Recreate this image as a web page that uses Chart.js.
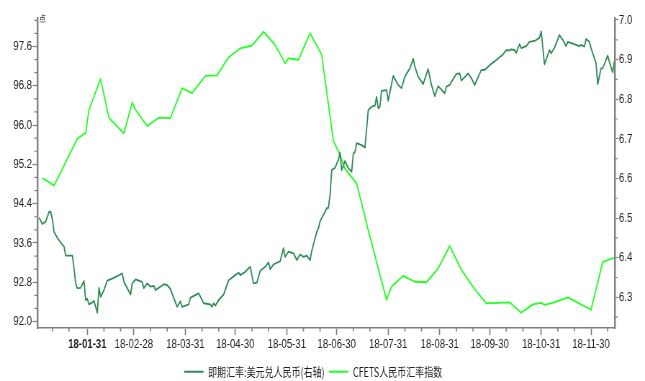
<!DOCTYPE html>
<html>
<head>
<meta charset="utf-8">
<script src="https://cdn.jsdelivr.net/npm/chart.js@4.4.1/dist/chart.umd.min.js"></script>
<style>
  html, body { margin: 0; padding: 0; background: #fff; overflow: hidden; }
</style>
</head>
<body>
<!-- drawn on a wider canvas and shown narrower, which gives the condensed lettering -->
<canvas id="chart" width="896" height="381" style="width:645px;height:381px"></canvas>
<script>
// x values are calendar days counted from 2018-01-01 (day 0)
const X_MAX = 347.4;

// Month-end labels on the date axis
const xTickLabels = ['18-01-31', '18-02-28', '18-03-31', '18-04-30', '18-05-31', '18-06-30',
                     '18-07-31', '18-08-31', '18-09-30', '18-10-31', '18-11-30'];

// Left axis (CFETS index, points) and right axis (USD/CNY) labels
const leftTickLabels = ['92.0', '92.8', '93.6', '94.4', '95.2', '96.0', '96.8', '97.6'];
const rightTickLabels = ['6.3', '6.4', '6.5', '6.6', '6.7', '6.8', '6.9', '7.0'];

// 即期汇率:美元兑人民币 (daily)
const usdDays = [
  1, 3, 5, 7, 8, 9, 10, 12, 14, 16, 17, 21, 22, 23, 24, 26, 28, 29, 30,
  31, 33, 34, 36, 37, 38, 40, 42, 46, 51, 52, 56, 57,
  59, 63, 64, 66, 68, 70, 71, 76, 78, 80, 84, 86, 87,
  89, 91, 92, 97, 100, 104, 105, 106, 107, 109, 112, 115,
  119, 121, 122, 125, 126, 128, 130, 132, 134, 137, 139, 140, 142, 146, 148, 149,
  151, 154, 156, 158, 160, 162, 164, 165, 168, 169, 170, 172, 174, 175, 176, 177, 179,
  181, 182, 183, 185, 187, 189, 190, 191, 192, 195, 197, 199, 201, 203, 204, 205, 206, 207, 210,
  211, 214, 217, 219, 221, 224, 226, 227, 229, 232, 235, 237, 239, 241,
  245, 246, 248, 249, 252, 254, 255, 259, 261, 263, 267, 269, 272,
  276, 280, 282, 284, 285, 287, 288, 290, 291, 294, 296, 299, 302, 303,
  305, 308, 309, 311, 314, 316, 318, 319, 324, 326, 327, 329, 330, 332, 333,
  336, 337, 339, 340, 343, 344, 346, 347
];
const usdValues = [
  6.501, 6.485, 6.491, 6.516, 6.516, 6.495, 6.465, 6.450, 6.438, 6.428, 6.405, 6.405, 6.373, 6.335, 6.323, 6.324, 6.341, 6.293, 6.296,
  6.282, 6.287, 6.291, 6.261, 6.324, 6.301, 6.318, 6.342, 6.349, 6.360, 6.339, 6.307, 6.335,
  6.345, 6.339, 6.323, 6.335, 6.327, 6.329, 6.318, 6.333, 6.331, 6.321, 6.276, 6.290, 6.276,
  6.279, 6.282, 6.299, 6.310, 6.285, 6.282, 6.276, 6.285, 6.279, 6.293, 6.307, 6.343,
  6.356, 6.362, 6.356, 6.364, 6.369, 6.377, 6.335, 6.337, 6.367, 6.377, 6.388, 6.371, 6.383, 6.391, 6.424, 6.402,
  6.415, 6.411, 6.394, 6.408, 6.402, 6.405, 6.394, 6.417, 6.465, 6.474, 6.492, 6.508, 6.525, 6.526, 6.558, 6.621, 6.627,
  6.647, 6.666, 6.621, 6.644, 6.626, 6.617, 6.663, 6.667, 6.689, 6.684, 6.678, 6.773, 6.781, 6.784, 6.806, 6.777, 6.781, 6.821, 6.823,
  6.796, 6.859, 6.836, 6.828, 6.857, 6.878, 6.902, 6.882, 6.857, 6.838, 6.876, 6.836, 6.808, 6.833,
  6.815, 6.832, 6.836, 6.844, 6.864, 6.865, 6.847, 6.865, 6.853, 6.836, 6.874, 6.874, 6.886,
  6.899, 6.913, 6.924, 6.923, 6.926, 6.924, 6.917, 6.939, 6.929, 6.934, 6.945, 6.947, 6.955, 6.971,
  6.888, 6.924, 6.916, 6.930, 6.962, 6.950, 6.934, 6.945, 6.937, 6.934, 6.937, 6.933, 6.952, 6.945, 6.929,
  6.891, 6.838, 6.878, 6.878, 6.910, 6.895, 6.868, 6.895
];

// CFETS人民币汇率指数 (weekly)
const cfetsDays = [
  3, 10, 24, 29, 31, 38, 43, 52, 57, 59, 66, 73, 80, 87, 93, 101, 108, 115, 122, 129,
  136, 143, 149, 151, 157, 164, 171, 178, 182, 185, 192, 199, 206, 210, 213, 220, 227, 234, 241, 248,
  255, 263, 270, 284, 291, 298, 303, 305, 311, 319, 333, 340, 347
];
const cfetsValues = [
  94.92, 94.77, 95.72, 95.84, 96.31, 96.94, 96.15, 95.83, 96.46, 96.31, 95.98, 96.15, 96.14, 96.75, 96.65, 97.00, 97.01, 97.38, 97.56, 97.62,
  97.90, 97.63, 97.26, 97.36, 97.33, 97.87, 97.43, 95.68, 95.39, 95.11, 94.81, 93.86, 92.95, 92.44, 92.71, 92.93, 92.81, 92.80, 93.08, 93.54,
  93.05, 92.66, 92.37, 92.39, 92.18, 92.35, 92.38, 92.34, 92.39, 92.49, 92.24, 93.21, 93.30
];

const UNIT_LABEL = '点';
const DARK_GREEN = '#2e8b57';
const LIME = '#22ff22';
const AXIS_COLOR = '#808080';
const TEXT_COLOR = '#222222';
const TICK_FONT = '"Liberation Sans", "Noto Sans CJK SC", sans-serif';

// "18-01-31" -> days since 2018-01-01
const dayOf = s => (Date.UTC(2000 + +s.slice(0, 2), +s.slice(3, 5) - 1, +s.slice(6, 8)) - Date.UTC(2018, 0, 1)) / 864e5;
const xTickDays = xTickLabels.map(dayOf);
const leftTicks = leftTickLabels.map(Number);
const rightTicks = rightTickLabels.map(Number);

// minor marks: the 10th and 20th of every month; thirds / halves of the value steps
const xMinorDays = [];
for (let m = 0; m < 12; m++) {
  [10, 20].forEach(d => {
    const v = (Date.UTC(2018, m, d) - Date.UTC(2018, 0, 1)) / 864e5;
    if (v <= X_MAX) xMinorDays.push(v);
  });
}
const leftMinor = [];
for (let i = -1; i < leftTicks.length + 1; i++) {
  [1, 2].forEach(k => leftMinor.push(leftTicks[0] + 0.8 * i + 0.8 * k / 3));
}
const rightMinor = rightTicks.map(v => v - 0.05);

const axisMarks = {
  id: 'axisMarks',
  afterDraw(chart) {
    const { ctx, chartArea: a, scales: { x, yL, yR } } = chart;
    ctx.save();
    ctx.strokeStyle = AXIS_COLOR;
    ctx.lineWidth = 1.7;
    ctx.beginPath();
    xMinorDays.forEach(d => {
      const p = x.getPixelForValue(d);
      ctx.moveTo(p, a.bottom);
      ctx.lineTo(p, a.bottom + 3.5);
    });
    ctx.stroke();
    ctx.lineWidth = 1.2;
    ctx.beginPath();
    leftMinor.forEach(v => {
      if (v < yL.min || v > yL.max) return;
      const p = yL.getPixelForValue(v);
      ctx.moveTo(a.left - 4.5, p);
      ctx.lineTo(a.left, p);
    });
    rightMinor.forEach(v => {
      if (v < yR.min || v > yR.max) return;
      const p = yR.getPixelForValue(v);
      ctx.moveTo(a.right, p);
      ctx.lineTo(a.right + 3.5, p);
    });
    ctx.stroke();
    ctx.fillStyle = TEXT_COLOR;
    ctx.font = '9px "Noto Sans CJK SC"';
    ctx.textAlign = 'left';
    ctx.textBaseline = 'middle';
    ctx.fillText(UNIT_LABEL, a.left + 2.5, a.top + 1);
    ctx.restore();
  }
};

const toPoints = (xs, ys) => xs.map((d, i) => ({ x: d, y: ys[i] }));

new Chart(document.getElementById('chart'), {
  type: 'line',
  data: {
    datasets: [
      {
        label: '即期汇率:美元兑人民币(右轴)',
        data: toPoints(usdDays, usdValues),
        yAxisID: 'yR',
        borderColor: DARK_GREEN,
        backgroundColor: DARK_GREEN,
        borderWidth: 1.8,
        pointRadius: 0,
        tension: 0,
        borderJoinStyle: 'round'
      },
      {
        label: 'CFETS人民币汇率指数',
        data: toPoints(cfetsDays, cfetsValues),
        yAxisID: 'yL',
        borderColor: LIME,
        backgroundColor: LIME,
        borderWidth: 1.8,
        pointRadius: 0,
        tension: 0,
        borderJoinStyle: 'round'
      }
    ]
  },
  options: {
    responsive: false,
    devicePixelRatio: 1,
    animation: false,
    events: [],
    // the negative left inset moves the centred legend row leftwards;
    // the left axis box is widened by the same amount
    layout: { padding: { top: 18, left: -26, right: 0, bottom: -7 } },
    scales: {
      x: {
        type: 'linear',
        position: 'bottom',
        min: 0,
        max: X_MAX,
        afterBuildTicks: s => { s.ticks = xTickDays.map(v => ({ value: v })); },
        afterFit: s => { s.height = 31.5; },
        ticks: {
          autoSkip: false,
          maxRotation: 0,
          padding: 1,
          color: TEXT_COLOR,
          font: c => ({ family: TICK_FONT, size: 13.3, weight: c.index === 0 ? 'bold' : 'normal' }),
          callback: (v, i) => xTickLabels[i]
        },
        grid: { display: true, drawOnChartArea: false, drawTicks: true, tickLength: 7, tickWidth: 1.7, tickColor: AXIS_COLOR },
        border: { display: true, color: AXIS_COLOR, width: 1.6 }
      },
      yL: {
        type: 'linear',
        position: 'left',
        min: 91.868,
        max: 98.18,
        afterBuildTicks: s => { s.ticks = leftTicks.map(v => ({ value: v })); },
        afterFit: s => { s.width = 78; },
        ticks: {
          padding: 0.5,
          color: TEXT_COLOR,
          font: { family: TICK_FONT, size: 13.4 },
          callback: (v, i) => leftTickLabels[i]
        },
        grid: { display: true, drawOnChartArea: false, drawTicks: true, tickLength: 7, tickWidth: 1.2, tickColor: AXIS_COLOR },
        border: { display: true, color: AXIS_COLOR, width: 2.4 }
      },
      yR: {
        type: 'linear',
        position: 'right',
        min: 6.2225,
        max: 7.005,
        afterBuildTicks: s => { s.ticks = rightTicks.map(v => ({ value: v })); },
        afterFit: s => { s.width = 41.7; },
        ticks: {
          padding: 0.5,
          color: TEXT_COLOR,
          font: { family: TICK_FONT, size: 13.4 },
          callback: (v, i) => rightTickLabels[i]
        },
        grid: { display: true, drawOnChartArea: false, drawTicks: true, tickLength: 5, tickWidth: 1.2, tickColor: AXIS_COLOR },
        border: { display: true, color: AXIS_COLOR, width: 2.4 }
      }
    },
    plugins: {
      tooltip: { enabled: false },
      legend: {
        position: 'bottom',
        labels: {
          usePointStyle: true,
          pointStyle: 'line',
          pointStyleWidth: 27,
          padding: 6,
          color: TEXT_COLOR,
          font: { family: '"Noto Sans CJK SC", sans-serif', size: 12.5 }
        }
      }
    }
  },
  plugins: [axisMarks]
});
</script>
</body>
</html>
